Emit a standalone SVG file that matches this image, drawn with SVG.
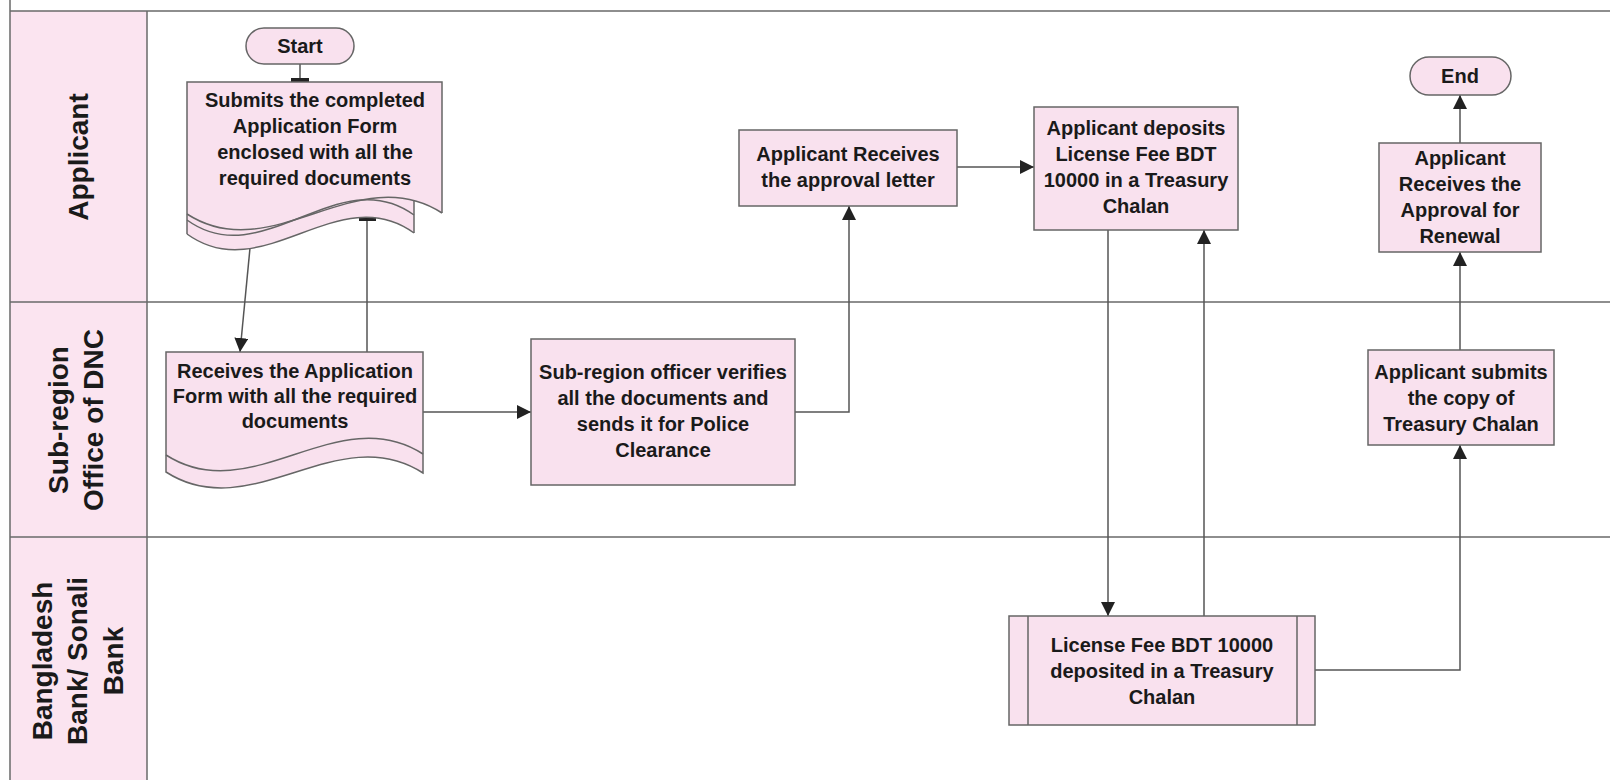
<svg xmlns="http://www.w3.org/2000/svg" width="1610" height="780" viewBox="0 0 1610 780">
<defs>
<style>
.lane{fill:#fbe4f0;stroke:none}
.ln{stroke:#6a6a6a;stroke-width:1.5;fill:none}
.box{fill:#f9e1ee;stroke:#666;stroke-width:1.5}
.nf{fill:#f9e1ee;stroke:none}
.st{fill:none;stroke:#666;stroke-width:1.5}
.t{font-family:"Liberation Sans",Arial,sans-serif;font-weight:bold;font-size:20px;fill:#1a1a1a;text-anchor:middle}
.lt{font-family:"Liberation Sans",Arial,sans-serif;font-weight:bold;font-size:28px;fill:#1a1a1a;text-anchor:middle;dominant-baseline:central}
.c{fill:none;stroke:#555;stroke-width:1.5}
.bar{fill:#222}
</style>
<marker id="ah" markerUnits="userSpaceOnUse" markerWidth="16" markerHeight="14" refX="14" refY="7" orient="auto"><path d="M0,0 L14,7 L0,14 Z" fill="#222"/></marker>
</defs>

<g id="lanes">
<rect class="lane" x="10" y="11" width="137" height="769"/>
<path class="ln" d="M10,11 H1610 M10,302 H1610 M10,537 H1610 M10,0 V780 M147,11 V780"/>
<text class="lt" transform="translate(78,157) rotate(-90)">Applicant</text>
<text class="lt" transform="translate(75,420) rotate(-90)"><tspan x="0" y="-17.5">Sub-region</tspan><tspan x="0" y="17.5">Office of DNC</tspan></text>
<text class="lt" transform="translate(77,661) rotate(-90)"><tspan x="0" y="-35.5">Bangladesh</tspan><tspan x="0" y="0">Bank/ Sonali</tspan><tspan x="0" y="35.5">Bank</tspan></text>
</g>

<g id="connectors">
<path class="c" d="M300,64 V79"/>
<rect class="bar" x="291" y="78" width="18" height="4"/>
<path class="c" d="M250,248 L240,352" marker-end="url(#ah)"/>
<path class="c" d="M367,352 V221"/>
<rect class="bar" x="359" y="217" width="17" height="4"/>
<path class="c" d="M423,412 H531" marker-end="url(#ah)"/>
<path class="c" d="M795,412 H849 V206" marker-end="url(#ah)"/>
<path class="c" d="M957,167 H1034" marker-end="url(#ah)"/>
<path class="c" d="M1108,230 V616" marker-end="url(#ah)"/>
<path class="c" d="M1204,616 V230" marker-end="url(#ah)"/>
<path class="c" d="M1315,670 H1460 V445" marker-end="url(#ah)"/>
<path class="c" d="M1460,350 V252" marker-end="url(#ah)"/>
<path class="c" d="M1460,143 V95" marker-end="url(#ah)"/>
</g>

<g id="start">
<rect class="box" x="246" y="28" width="108" height="36" rx="18"/>
<text class="t" x="300" y="53">Start</text>
</g>

<g id="submits">
<path class="nf" d="M187,82 H442 V213 C357,158 272,269 187,214 Z"/>
<path class="nf" d="M187,82 H414 V233 C338.3,178 262.7,289 187,234 Z"/>
<path class="st" d="M187,234 V82 H442 V213"/>
<path class="st" d="M187,214 C272,269 357,158 442,213"/>
<path class="st" d="M414,201 V233"/>
<path class="st" d="M187,220 C262.7,275 338.3,160 414,215"/>
<path class="st" d="M187,234 C262.7,289 338.3,178 414,233"/>
<text class="t"><tspan x="315" y="107">Submits the completed</tspan><tspan x="315" y="133">Application Form</tspan><tspan x="315" y="159">enclosed with all the</tspan><tspan x="315" y="185">required documents</tspan></text>
</g>

<g id="receives">
<path class="box" d="M166,352 H423 V473 C337.3,418 251.7,527 166,472 Z"/>
<path class="st" d="M166,455 C251.7,510 337.3,399 423,454"/>
<text class="t"><tspan x="295" y="378">Receives the Application</tspan><tspan x="295" y="403">Form with all the required</tspan><tspan x="295" y="428">documents</tspan></text>
</g>

<g id="verify">
<rect class="box" x="531" y="339" width="264" height="146"/>
<text class="t"><tspan x="663" y="379">Sub-region officer verifies</tspan><tspan x="663" y="405">all the documents and</tspan><tspan x="663" y="431">sends it for Police</tspan><tspan x="663" y="457">Clearance</tspan></text>
</g>

<g id="approval-letter">
<rect class="box" x="739" y="130" width="218" height="76"/>
<text class="t"><tspan x="848" y="161">Applicant Receives</tspan><tspan x="848" y="187">the approval letter</tspan></text>
</g>

<g id="deposit">
<rect class="box" x="1034" y="107" width="204" height="123"/>
<text class="t"><tspan x="1136" y="135">Applicant deposits</tspan><tspan x="1136" y="161">License Fee BDT</tspan><tspan x="1136" y="187">10000 in a Treasury</tspan><tspan x="1136" y="213">Chalan</tspan></text>
</g>

<g id="bank-deposit">
<rect class="box" x="1009" y="616" width="306" height="109"/>
<path class="st" d="M1028,616 V725 M1297,616 V725"/>
<text class="t"><tspan x="1162" y="652">License Fee BDT 10000</tspan><tspan x="1162" y="678">deposited in a Treasury</tspan><tspan x="1162" y="704">Chalan</tspan></text>
</g>

<g id="submit-copy">
<rect class="box" x="1368" y="350" width="186" height="95"/>
<text class="t"><tspan x="1461" y="379">Applicant submits</tspan><tspan x="1461" y="405">the copy of</tspan><tspan x="1461" y="431">Treasury Chalan</tspan></text>
</g>

<g id="renewal">
<rect class="box" x="1379" y="143" width="162" height="109"/>
<text class="t"><tspan x="1460" y="165">Applicant</tspan><tspan x="1460" y="191">Receives the</tspan><tspan x="1460" y="217">Approval for</tspan><tspan x="1460" y="243">Renewal</tspan></text>
</g>

<g id="end">
<rect class="box" x="1410" y="57" width="101" height="38" rx="19"/>
<text class="t" x="1460" y="83">End</text>
</g>
</svg>
